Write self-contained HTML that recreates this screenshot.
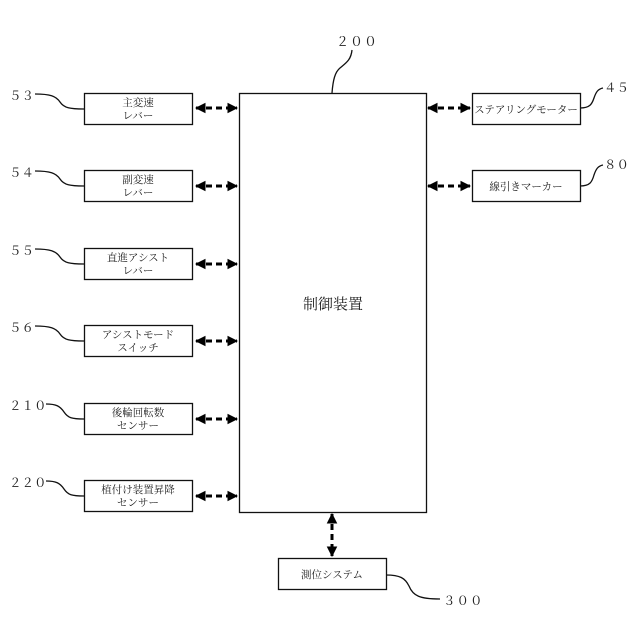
<!DOCTYPE html>
<html><head><meta charset="utf-8"><style>
html,body{margin:0;padding:0;background:#fff;}
svg{display:block;}
text{font-family:"Liberation Serif","Noto Serif CJK SC","Noto Sans CJK JP",serif;fill:#222;}
.b{fill:#fff;stroke:#111;stroke-width:1.3;}
.l{fill:none;stroke:#111;stroke-width:1.3;}
.d{stroke:#000;stroke-width:3;stroke-dasharray:6,4;fill:none;}
</style></head><body>
<svg width="640" height="640" viewBox="0 0 640 640" xmlns="http://www.w3.org/2000/svg">
<defs>
<marker id="a" viewBox="0 0 10 10" refX="9" refY="5" markerWidth="3.6" markerHeight="3.6" orient="auto-start-reverse"><path d="M0,0L10,5L0,10z" fill="#000"/></marker>
</defs>
<rect class="b" x="239.5" y="93.5" width="187" height="419"/>
<text x="333" y="309" font-size="15" text-anchor="middle">制御装置</text>
<text x="336" y="46" font-size="13" letter-spacing="1">２００</text>
<path class="l" d="M332,93 C333,80 335,72 340,68 C346,63 351,60 352,50"/>

<g font-size="10.5" text-anchor="middle">
<rect class="b" x="84.5" y="93.5" width="108" height="31"/>
<text x="138" y="106">主変速</text><text x="138" y="119">レバー</text>
<rect class="b" x="84.5" y="170.5" width="108" height="31"/>
<text x="138" y="183">副変速</text><text x="138" y="196">レバー</text>
<rect class="b" x="84.5" y="248.5" width="108" height="31"/>
<text x="138" y="261">直進アシスト</text><text x="138" y="274">レバー</text>
<rect class="b" x="84.5" y="325.5" width="108" height="31"/>
<text x="138" y="338">アシストモード</text><text x="138" y="351">スイッチ</text>
<rect class="b" x="84.5" y="403.5" width="108" height="31"/>
<text x="138" y="416">後輪回転数</text><text x="138" y="429">センサー</text>
<rect class="b" x="84.5" y="480.5" width="108" height="31"/>
<text x="138" y="493">植付け装置昇降</text><text x="138" y="506">センサー</text>

<rect class="b" x="472.5" y="93.5" width="108" height="31"/>
<text x="526" y="113">ステアリングモーター</text>
<rect class="b" x="472.5" y="170.5" width="108" height="31"/>
<text x="526" y="190">線引きマーカー</text>
<rect class="b" x="278.5" y="558.5" width="108" height="31"/>
<text x="332" y="578">測位システム</text>
</g>

<g font-size="12.5" letter-spacing="0">
<text x="9" y="100">５３</text>
<text x="9" y="177">５４</text>
<text x="9" y="255">５５</text>
<text x="9" y="332">５６</text>
<text x="9" y="410">２１０</text>
<text x="9" y="487">２２０</text>
<text x="604" y="92">４５</text>
<text x="604" y="169">８０</text>
<text x="443" y="605" letter-spacing="1">３００</text>
</g>
<g class="l">
<path d="M35,94 C50,94 56,96 60,102 C64,108 70,109 84,109"/>
<path d="M35,171 C50,171 56,173 60,179 C64,185 70,186 84,186"/>
<path d="M35,249 C50,249 56,251 60,257 C64,263 70,264 84,264"/>
<path d="M35,326 C50,326 56,328 60,334 C64,340 70,341 84,341"/>
<path d="M46,404 C56,404 60,406 64,412 C68,418 72,419 84,419"/>
<path d="M46,481 C56,481 60,483 64,489 C68,495 72,496 84,496"/>
<path d="M580,108 C590,108 592,104 594,98 C596,92 598,89 603,88"/>
<path d="M580,186 C590,186 592,182 594,175 C596,169 598,166 603,165"/>
<path d="M386,575 C400,575 405,578 409,586 C413,596 420,599 440,599"/>
</g>

<g class="d" marker-start="url(#a)" marker-end="url(#a)">
<line x1="196" y1="108" x2="237" y2="108"/>
<line x1="196" y1="186" x2="237" y2="186"/>
<line x1="196" y1="264" x2="237" y2="264"/>
<line x1="196" y1="341" x2="237" y2="341"/>
<line x1="196" y1="419" x2="237" y2="419"/>
<line x1="196" y1="496" x2="237" y2="496"/>
<line x1="428" y1="108" x2="470" y2="108"/>
<line x1="428" y1="186" x2="470" y2="186"/>
<line x1="332" y1="514" x2="332" y2="556"/>
</g>
</svg>
</body></html>
